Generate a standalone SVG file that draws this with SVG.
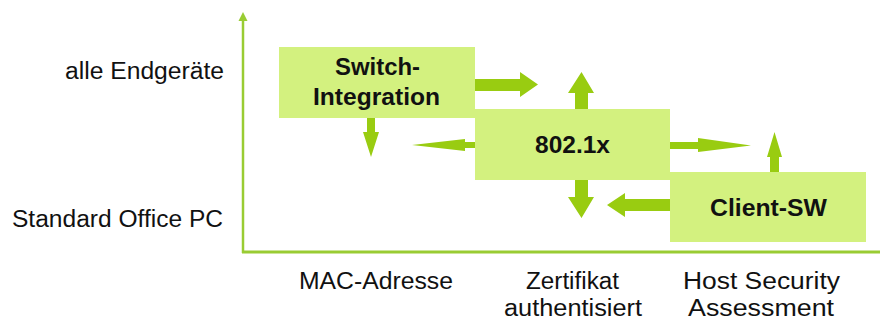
<svg xmlns="http://www.w3.org/2000/svg" width="880" height="320" viewBox="0 0 880 320">
<style>
.box{fill:#D3F17F}
.arr{fill:#99CC11}
.axis{stroke:#99CC33;fill:none}
.lbl{font-family:"Liberation Sans",Arial,sans-serif;font-size:23px;fill:#111}
.bl{font-family:"Liberation Sans",Arial,sans-serif;font-size:23px;font-weight:bold;fill:#111}
</style>
<rect width="880" height="320" fill="#ffffff"/>
<g id="axes">
<line class="axis" x1="243" y1="20" x2="243" y2="253" stroke-width="2.5"/>
<polygon points="243,12 238.5,21 247.5,21" fill="#99CC33"/>
<line class="axis" x1="242" y1="252" x2="880" y2="252" stroke-width="3"/>
</g>
<g id="axis-labels">
<text class="lbl" x="65" y="79" textLength="159" lengthAdjust="spacingAndGlyphs">alle Endgeräte</text>
<text class="lbl" x="12" y="227" textLength="211" lengthAdjust="spacingAndGlyphs">Standard Office PC</text>
<text class="lbl" x="299" y="289" textLength="154" lengthAdjust="spacingAndGlyphs">MAC-Adresse</text>
<text class="lbl" x="526" y="289" textLength="93" lengthAdjust="spacingAndGlyphs">Zertifikat</text>
<text class="lbl" x="504" y="316" textLength="138" lengthAdjust="spacingAndGlyphs">authentisiert</text>
<text class="lbl" x="683" y="289" textLength="157" lengthAdjust="spacingAndGlyphs">Host Security</text>
<text class="lbl" x="688" y="316" textLength="146" lengthAdjust="spacingAndGlyphs">Assessment</text>
</g>
<g id="connectors">
<polygon class="arr" points="475,79 520,79 520,72 538,84.5 520,97 520,91 475,91"/>
<polygon class="arr" points="367,118 375,118 375,132 379,132 371,157 363,132 367,132"/>
<polygon class="arr" points="475,142 465,142 465,139 412,145 465,151 465,148 475,148"/>
<polygon class="arr" points="575,109 575,93 568,93 581.5,72 594,93 588,93 588,109"/>
<polygon class="arr" points="575,180 588,180 588,197 594,197 581.5,218 568,197 575,197"/>
<polygon class="arr" points="670,199 625,199 625,193 607,205 625,217 625,211 670,211"/>
<polygon class="arr" points="670,142 698,142 698,138 751,145.5 698,152 698,149 670,149"/>
<polygon class="arr" points="770,172 770,157 767,157 774.5,132 782,157 779,157 779,172"/>
</g>
<g id="switch-integration">
<rect class="box" x="279" y="47" width="196" height="71"/>
<text class="bl" x="335" y="75" textLength="85" lengthAdjust="spacingAndGlyphs">Switch-</text>
<text class="bl" x="313" y="105" textLength="127" lengthAdjust="spacingAndGlyphs">Integration</text>
</g>
<g id="dot1x">
<rect class="box" x="475" y="109" width="195" height="71"/>
<text class="bl" x="535" y="153" textLength="75" lengthAdjust="spacingAndGlyphs">802.1x</text>
</g>
<g id="client-sw">
<rect class="box" x="670" y="172" width="196" height="70"/>
<text class="bl" x="710" y="216" textLength="117" lengthAdjust="spacingAndGlyphs">Client-SW</text>
</g>
</svg>
